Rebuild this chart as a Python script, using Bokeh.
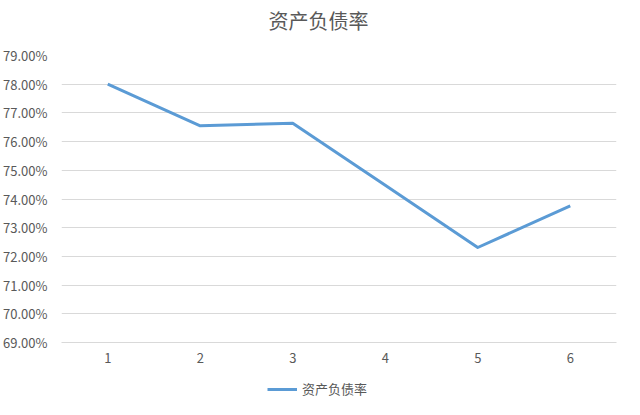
from bokeh.plotting import figure
from bokeh.layouts import column
from bokeh.models import (ColumnDataSource, Legend, LegendItem, NumeralTickFormatter,
                          FixedTicker, Range1d, Label)
from bokeh.embed import file_html
from bokeh.resources import INLINE

# data
periods = [1, 2, 3, 4, 5, 6]
debt_ratio = [0.7800, 0.7655, 0.7664, 0.7448, 0.7231, 0.7376]
series_name = "资产负债率"
chart_title = "资产负债率"
y_ticks = [0.69, 0.70, 0.71, 0.72, 0.73, 0.74, 0.75, 0.76, 0.77, 0.78, 0.79]

FONT = "Noto Sans CJK SC"
TXT = "#595959"
GRID = "#D9D9D9"
BLUE = "#5B9BD5"

src = ColumnDataSource(dict(x=periods, y=debt_ratio))


def strip(h):
    f = figure(width=624, height=h, output_backend="svg", toolbar_location=None,
               x_range=Range1d(100, 101), y_range=Range1d(100, 101),
               min_border_left=60, min_border_right=8, min_border_top=0,
               min_border_bottom=0)
    f.axis.visible = False
    f.grid.visible = False
    f.outline_line_color = None
    f.border_fill_color = "white"
    f.background_fill_color = "white"
    return f


# title strip (frame aligned with the chart's frame)
tf = strip(40)
tf.add_layout(Label(x=207, y=20, x_units="screen", y_units="screen", text=chart_title,
                    text_font=FONT, text_font_size="20px", text_color=TXT,
                    text_align="left", text_baseline="middle"))

p = figure(width=624, height=326, output_backend="svg", toolbar_location=None,
           x_range=Range1d(0.5, 6.5), y_range=Range1d(0.69, 0.79),
           min_border_left=60, min_border_right=8, min_border_top=15,
           min_border_bottom=24)
p.outline_line_color = None
p.background_fill_color = "white"
p.border_fill_color = "white"

r = p.line("x", "y", source=src, line_color=BLUE, line_width=3, line_join="round")

# axes
p.yaxis.ticker = FixedTicker(ticks=y_ticks)
p.yaxis.formatter = NumeralTickFormatter(format="0.00%")
p.yaxis.axis_line_color = None
p.yaxis.major_tick_line_color = None
p.yaxis.minor_tick_line_color = None
p.yaxis.major_label_text_font = FONT
p.yaxis.major_label_text_font_size = "13px"
p.yaxis.major_label_text_color = TXT
p.yaxis.major_label_standoff = 8

p.xaxis.ticker = FixedTicker(ticks=periods)
p.xaxis.axis_line_color = GRID
p.xaxis.major_tick_line_color = None
p.xaxis.minor_tick_line_color = None
p.xaxis.major_label_text_font = FONT
p.xaxis.major_label_text_font_size = "13px"
p.xaxis.major_label_text_color = TXT
p.xaxis.major_label_standoff = 4

p.xgrid.grid_line_color = None
p.ygrid.ticker = FixedTicker(ticks=y_ticks)
p.ygrid.grid_line_color = GRID
p.ygrid.grid_line_width = 1

# legend strip below the chart
lf = strip(33)
lr = lf.line("x", "y", source=src, line_color=BLUE, line_width=3)
legend = Legend(items=[LegendItem(label=series_name, renderers=[lr])],
                orientation="horizontal", location=(206, 1),
                label_text_font=FONT, label_text_font_size="13px",
                label_text_color=TXT, border_line_color=None,
                background_fill_alpha=0, glyph_width=30, glyph_height=12,
                label_standoff=5, margin=0, padding=2)
lf.add_layout(legend, "center")

layout = column(tf, p, lf, spacing=0)
open("out.html", "w").write(file_html(layout, INLINE))
